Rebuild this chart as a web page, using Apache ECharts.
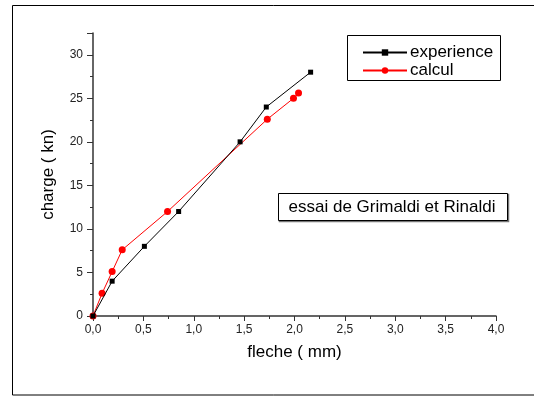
<!DOCTYPE html>
<html><head><meta charset="utf-8">
<script src="https://cdn.jsdelivr.net/npm/echarts@6/dist/echarts.min.js"></script>
<style>html,body{margin:0;padding:0;background:#fff}#c{width:534px;height:396px}</style>
</head><body><div id="c"></div>
<script>
const experienceX = [0, 0.19, 0.51, 0.85, 1.46, 1.72, 2.16];
const experienceY = [0, 4, 8, 12, 20, 24, 28];
const calculX = [0, 0.09, 0.19, 0.29, 0.74, 1.73, 1.99, 2.04];
const calculY = [0, 2.6, 5.1, 7.6, 12, 22.6, 25, 25.6];
const xTicks = [0, 0.5, 1, 1.5, 2, 2.5, 3, 3.5, 4];
const yTicks = [0, 5, 10, 15, 20, 25, 30];

const chart = echarts.init(document.getElementById('c'));
const font = 'Liberation Sans, Arial, sans-serif';
chart.setOption({
  animation: false,
  textStyle: {fontFamily: font},
  grid: {left: 93, top: 33, right: 38, bottom: 80},
  graphic: [
    {type: 'rect', shape: {x: 12.5, y: 5.5, width: 540, height: 389.5}, style: {fill: 'none', stroke: '#000', lineWidth: 1}, silent: true},
    {type: 'rect', shape: {x: 279.5, y: 194.5, width: 229, height: 27}, style: {fill: 'none', stroke: '#777', lineWidth: 1.5}, silent: true},
    {type: 'rect', shape: {x: 278.5, y: 193.5, width: 229, height: 27}, style: {fill: '#fff', stroke: '#000', lineWidth: 1}, silent: true},
    {type: 'text', x: 392, y: 207.5, style: {text: 'essai de Grimaldi et Rinaldi', fontSize: 17, fontFamily: font, fill: '#000', align: 'center', verticalAlign: 'middle'}, silent: true},
    {type: 'rect', shape: {x: 347.5, y: 35.5, width: 153, height: 45}, style: {fill: '#fff', stroke: '#000', lineWidth: 1}, silent: true, z: 1}
  ],
  legend: {
    left: 357, top: 39, orient: 'vertical', itemGap: 1,
    itemWidth: 44, itemHeight: 8,
    textStyle: {fontSize: 17, fontFamily: font, color: '#000', padding: [0, 0, 0, -2]},
    data: [{name: 'experience'}, {name: 'calcul'}]
  },
  xAxis: {
    type: 'value', min: 0, max: 4, interval: 0.5,
    name: 'fleche ( mm)', nameLocation: 'middle', nameGap: 28,
    nameTextStyle: {fontSize: 17, color: '#000', fontFamily: font},
    axisLine: {lineStyle: {color: '#333', width: 1.5}},
    axisTick: {show: true, length: 5, lineStyle: {color: '#333'}},
    minorTick: {show: true, splitNumber: 2, length: 3, lineStyle: {color: '#333'}},
    splitLine: {show: false},
    axisLabel: {fontSize: 12, color: '#222', margin: 8, formatter: v => v.toFixed(1).replace('.', ',')}
  },
  yAxis: {
    type: 'value', min: 0, max: 32.5, interval: 5,
    name: 'charge ( kn)', nameLocation: 'middle', nameGap: 36,
    nameTextStyle: {fontSize: 17, color: '#000', fontFamily: font},
    axisLine: {show: true, lineStyle: {color: '#333', width: 1.5}},
    axisTick: {show: true, length: 6, lineStyle: {color: '#333'}},
    minorTick: {show: true, splitNumber: 2, length: 3, lineStyle: {color: '#333'}},
    splitLine: {show: false},
    axisLabel: {fontSize: 12, color: '#222', margin: 10, formatter: v => (yTicks.includes(v) ? String(v) : '')}
  },
  series: [
    {
      name: 'experience', type: 'line',
      data: experienceX.map((x, i) => [x, experienceY[i]]),
      symbol: 'rect', symbolSize: 5,
      itemStyle: {color: '#000'}, lineStyle: {color: '#000', width: 1}, z: 3
    },
    {
      name: 'calcul', type: 'line',
      data: calculX.map((x, i) => [x, calculY[i]]),
      symbol: 'circle', symbolSize: 7,
      itemStyle: {color: '#f00'}, lineStyle: {color: '#f00', width: 1}, z: 2
    }
  ]
});
</script></body></html>
